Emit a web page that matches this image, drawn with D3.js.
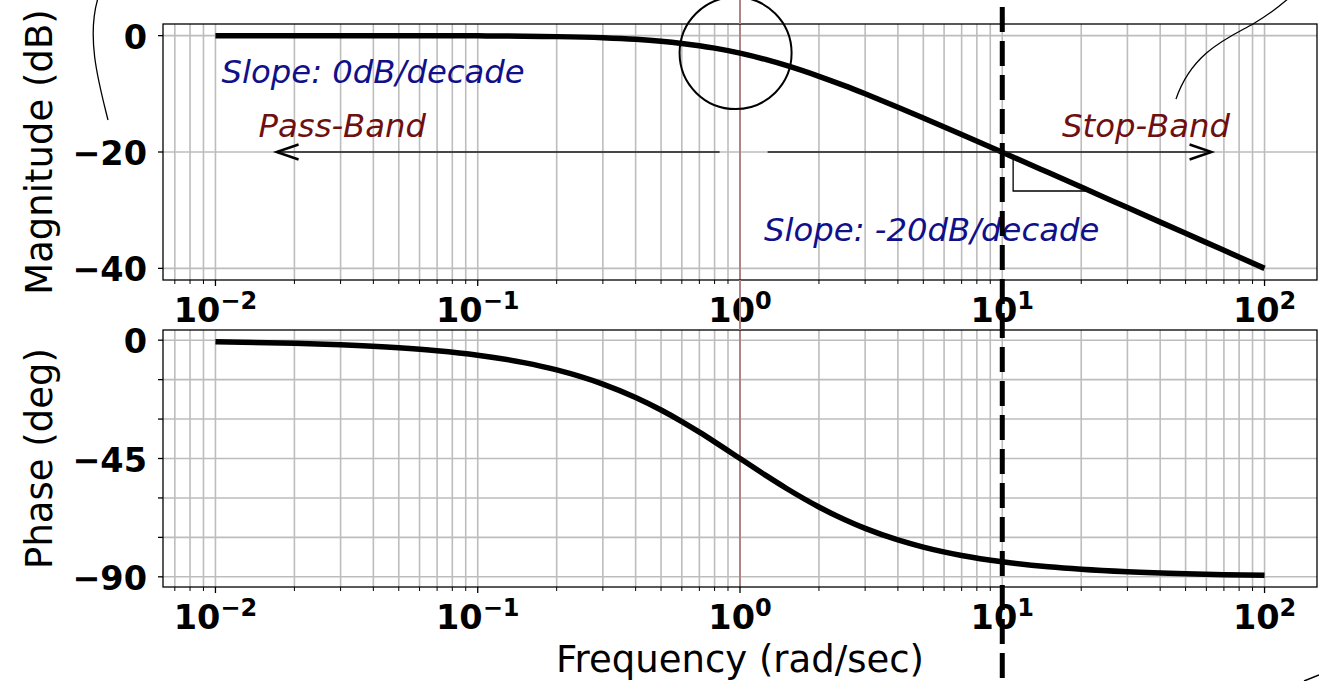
<!DOCTYPE html>
<html>
<head>
<meta charset="utf-8">
<script src="https://cdn.jsdelivr.net/npm/d3@7/dist/d3.min.js"></script>
<style>
  html, body { margin: 0; padding: 0; background: #fff; }
  svg { display: block; font-family: "DejaVu Sans", sans-serif; }
</style>
</head>
<body>
<svg id="chart" width="1319" height="681"></svg>
<script>
// Frequency samples (rad/sec) of the first-order low-pass response
const freq = [0.01, 0.02, 0.03, 0.05, 0.07, 0.1, 0.15, 0.2, 0.3, 0.4, 0.5, 0.6, 0.7, 0.8, 1,
              1.25, 1.5, 2, 2.5, 3, 4, 5, 7, 10, 15, 20, 30, 50, 70, 100];
// Magnitude (dB)
const magnitude = [0.00, 0.00, 0.00, -0.01, -0.02, -0.04, -0.10, -0.17, -0.37, -0.64, -0.97, -1.34, -1.73, -2.15, -3.01,
                   -4.09, -5.12, -6.99, -8.60, -10.00, -12.30, -14.15, -16.99, -20.04, -23.54, -26.03, -29.55, -33.98, -36.90, -40.00];
// Phase (deg)
const phase = [-0.57, -1.15, -1.72, -2.86, -4.00, -5.71, -8.53, -11.31, -16.70, -21.80, -26.57, -30.96, -34.99, -38.66, -45.00,
               -51.34, -56.31, -63.43, -68.20, -71.57, -75.96, -78.69, -81.87, -84.29, -86.19, -87.14, -88.09, -88.85, -89.18, -89.43];

// Tick values
const xMajorTicks = [0.01, 0.1, 1, 10, 100];
const xTickExponents = ["\u22122", "\u22121", "0", "1", "2"];
const magTicks = [0, -20, -40];
const magTickLabels = ["0", "\u221220", "\u221240"];
const phaseTicks = [0, -15, -30, -45, -60, -75, -90];
const phaseLabelled = [0, -45, -90];
const phaseTickLabels = ["0", "\u221245", "\u221290"];

// Corner and band markers
const cornerFreq = 1;
const markerFreq = 10;

const svg = d3.select("#chart");
const W = 1319, H = 681;
const left = 163, right = 1317;

const x = d3.scaleLog().domain([Math.pow(10, -2.2), Math.pow(10, 2.2)]).range([left, right]);
const yMag = d3.scaleLinear().domain([2, -42]).range([24, 280]);
const yPh = d3.scaleLinear().domain([3.87, -93.87]).range([330, 587]);

// Minor tick positions for a log axis
const minorTicks = [];
for (let e = -3; e <= 2; e++) {
  for (let m = 2; m <= 9; m++) {
    const v = m * Math.pow(10, e);
    if (v >= x.domain()[0] && v <= x.domain()[1]) minorTicks.push(v);
  }
}

const gridColor = "#bdbdbd";
const cornerColor = "#ad8585";

function drawPanel(y, yTicks, yLabelTicks, yLabels, values, panelLabel) {
  const [top, bottom] = y.range();
  const g = svg.append("g");
  const clipId = "clip" + Math.round(top);
  svg.append("clipPath").attr("id", clipId)
    .append("rect").attr("x", left).attr("y", top).attr("width", right - left).attr("height", bottom - top);

  // vertical grid (major + minor)
  g.selectAll(".vgrid").data(xMajorTicks.concat(minorTicks)).enter().append("line")
    .attr("x1", d => x(d)).attr("x2", d => x(d))
    .attr("y1", top).attr("y2", bottom)
    .attr("stroke", gridColor).attr("stroke-width", 1.6);
  // horizontal grid
  g.selectAll(".hgrid").data(yTicks).enter().append("line")
    .attr("x1", left).attr("x2", right)
    .attr("y1", d => y(d)).attr("y2", d => y(d))
    .attr("stroke", gridColor).attr("stroke-width", 1.6);

  // corner frequency line
  g.append("line")
    .attr("x1", x(cornerFreq)).attr("x2", x(cornerFreq))
    .attr("y1", top).attr("y2", bottom)
    .attr("stroke", cornerColor).attr("stroke-width", 2);

  // response curve
  const line = d3.line().x((d, i) => x(freq[i])).y(d => y(d)).curve(d3.curveMonotoneX);
  g.append("path").datum(values)
    .attr("d", line)
    .attr("clip-path", `url(#${clipId})`)
    .attr("fill", "none").attr("stroke", "#000").attr("stroke-width", 5.5);

  // frame
  g.append("rect").attr("x", left).attr("y", top).attr("width", right - left).attr("height", bottom - top)
    .attr("fill", "none").attr("stroke", "#000").attr("stroke-width", 1.3);

  // x ticks
  g.selectAll(".xmaj").data(xMajorTicks).enter().append("line")
    .attr("x1", d => x(d)).attr("x2", d => x(d)).attr("y1", bottom).attr("y2", bottom + 6)
    .attr("stroke", "#000").attr("stroke-width", 1.3);
  g.selectAll(".xmin").data(minorTicks).enter().append("line")
    .attr("x1", d => x(d)).attr("x2", d => x(d)).attr("y1", bottom).attr("y2", bottom + 4)
    .attr("stroke", "#000").attr("stroke-width", 1);

  // x tick labels: 10 with superscript exponent
  const xl = g.selectAll(".xlab").data(xMajorTicks).enter().append("text")
    .attr("x", d => x(d)).attr("y", bottom + 42)
    .attr("text-anchor", "middle").attr("font-weight", "bold").attr("fill", "#000");
  xl.append("tspan").attr("font-size", 33.5).text("10");
  xl.append("tspan").attr("font-size", 24).attr("dy", -13).text((d, i) => xTickExponents[i]);

  // y ticks
  g.selectAll(".ytick").data(yTicks).enter().append("line")
    .attr("x1", left - 5).attr("x2", left).attr("y1", d => y(d)).attr("y2", d => y(d))
    .attr("stroke", "#000").attr("stroke-width", 1.3);
  g.selectAll(".ylab").data(yLabelTicks).enter().append("text")
    .attr("x", left - 16).attr("y", d => y(d) + 13)
    .attr("text-anchor", "end").attr("font-weight", "bold").attr("font-size", 33.5).attr("fill", "#000")
    .text((d, i) => yLabels[i]);

  // y axis title
  svg.append("text")
    .attr("transform", `translate(52,${(top + bottom) / 2}) rotate(-90)`)
    .attr("text-anchor", "middle").attr("font-size", 37).attr("fill", "#000")
    .text(panelLabel);
}

drawPanel(yMag, magTicks, magTicks, magTickLabels, magnitude, "Magnitude (dB)");
drawPanel(yPh, phaseTicks, phaseLabelled, phaseTickLabels, phase, "Phase (deg)");

// corner-frequency line runs across the gap between panels up to the top edge
svg.append("line")
  .attr("x1", x(cornerFreq)).attr("x2", x(cornerFreq))
  .attr("y1", 0).attr("y2", yMag.range()[0])
  .attr("stroke", cornerColor).attr("stroke-width", 2);
svg.append("line")
  .attr("x1", x(cornerFreq)).attr("x2", x(cornerFreq))
  .attr("y1", yMag.range()[1]).attr("y2", yPh.range()[0])
  .attr("stroke", cornerColor).attr("stroke-width", 2);

// x axis title
svg.append("text").attr("x", (left + right) / 2).attr("y", 672)
  .attr("text-anchor", "middle").attr("font-size", 37).attr("fill", "#000")
  .text("Frequency (rad/sec)");

// ---- annotations on the magnitude panel ----
const ann = svg.append("g");

// band arrows along the -20 dB line
function arrow(x0, x1, yv) {
  const px0 = x(x0), px1 = x(x1), py = yMag(yv);
  const dir = Math.sign(px1 - px0);
  ann.append("line").attr("x1", px0).attr("x2", px1 - dir * 2).attr("y1", py).attr("y2", py)
    .attr("stroke", "#1a1a1a").attr("stroke-width", 1.6);
  ann.append("path")
    .attr("d", `M${px1 - dir * 22},${py - 7.5} L${px1},${py} L${px1 - dir * 22},${py + 7.5}`)
    .attr("fill", "none").attr("stroke", "#000").attr("stroke-width", 2.4)
    .attr("stroke-linejoin", "miter");
}
arrow(0.836, 0.0171, -20);
arrow(1.274, 62.8, -20);

// slope triangle below the curve past the marker
const triPath = d3.path();
triPath.moveTo(x(11.0), yMag(-20.9));
triPath.lineTo(x(11.0), yMag(-26.7));
triPath.lineTo(x(21.3), yMag(-26.7));
ann.append("path").attr("d", triPath.toString())
  .attr("fill", "none").attr("stroke", "#000").attr("stroke-width", 1.3);

// text labels
const texts = [
  { t: "Slope: 0dB/decade", w: 0.01055, v: -8.15, c: "#10108a" },
  { t: "Pass-Band", w: 0.0146, v: -17.4, c: "#6e1010" },
  { t: "Stop-Band", w: 16.9, v: -17.4, c: "#6e1010" },
  { t: "Slope: -20dB/decade", w: 1.235, v: -35.3, c: "#10108a" }
];
ann.selectAll(".ann").data(texts).enter().append("text")
  .attr("x", d => x(d.w)).attr("y", d => yMag(d.v))
  .attr("font-size", 32.3).attr("font-style", "italic").attr("fill", d => d.c)
  .text(d => d.t);

// circle around the -3 dB corner point
ann.append("circle")
  .attr("cx", x(0.962)).attr("cy", yMag(-3.0)).attr("r", 56)
  .attr("fill", "none").attr("stroke", "#000").attr("stroke-width", 2);

// leader curves running off the top edge
ann.append("path").attr("d", "M108,120 C99,84 86,38 98,-2")
  .attr("fill", "none").attr("stroke", "#000").attr("stroke-width", 1.3);
ann.append("path").attr("d", "M1176,99 C1192,52 1228,38 1253,24 C1268,15 1280,6 1290,-3")
  .attr("fill", "none").attr("stroke", "#000").attr("stroke-width", 1.3);
ann.append("path").attr("d", "M1304,681 L1319,675")
  .attr("fill", "none").attr("stroke", "#000").attr("stroke-width", 1.5);

// dashed marker at the decade above the corner
svg.append("line")
  .attr("x1", x(markerFreq)).attr("x2", x(markerFreq))
  .attr("y1", 7).attr("y2", H)
  .attr("stroke", "#000").attr("stroke-width", 5).attr("stroke-dasharray", "25,9");
</script>
</body>
</html>
